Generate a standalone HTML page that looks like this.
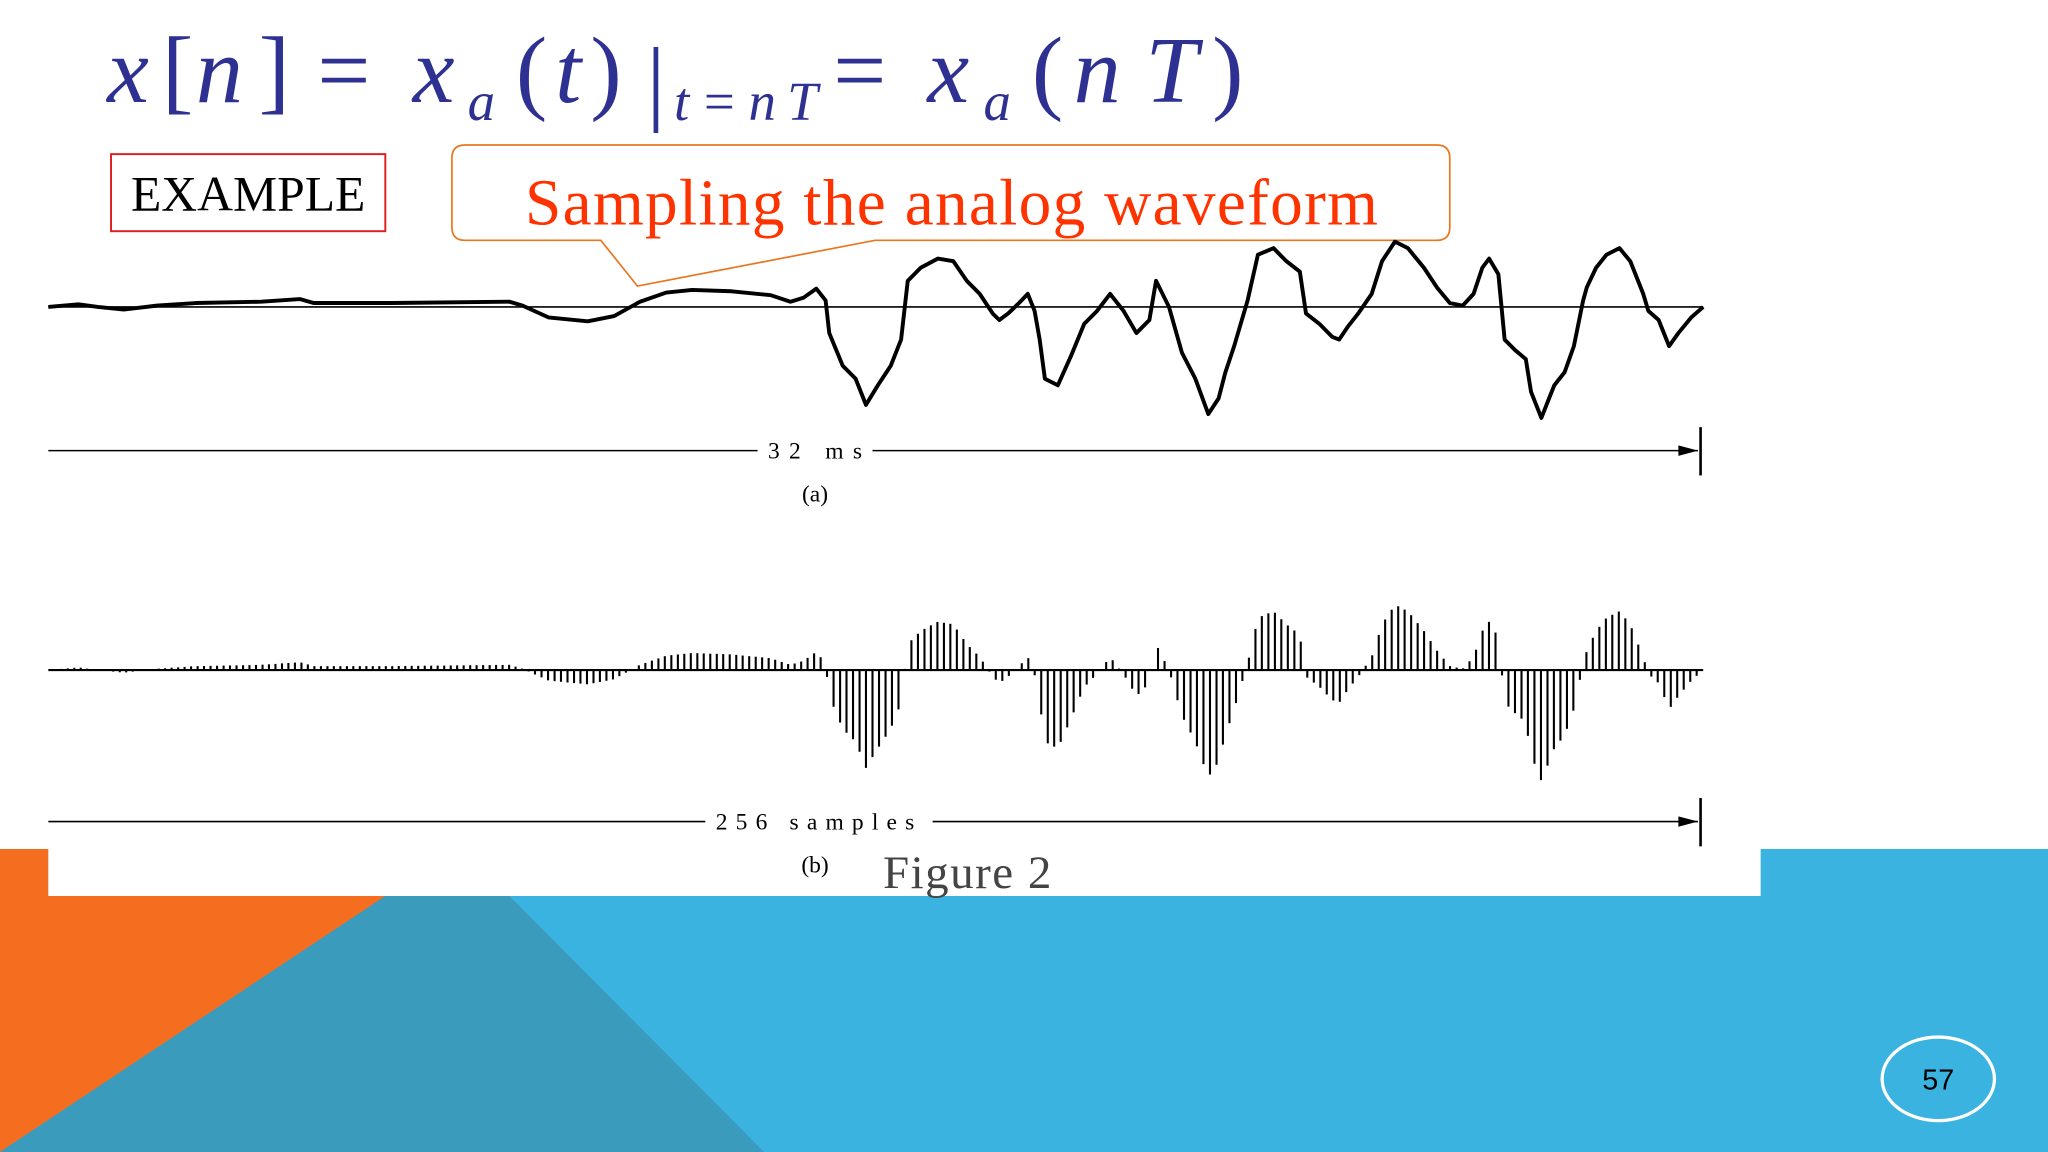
<!DOCTYPE html>
<html><head><meta charset="utf-8"><style>html,body{margin:0;padding:0;background:#fff}svg{display:block}</style></head>
<body>
<svg id="s" width="2048" height="1152" viewBox="0 0 1568 882" xmlns="http://www.w3.org/2000/svg">
<rect x="0" y="0" width="1568" height="882" fill="#fff"/>
<rect x="0" y="650" width="1568" height="232" fill="#3ab3e0"/>
<polygon points="0,650 37,650 37,686 295,686 0,882" fill="#f56d1f"/>
<polygon points="295,686 390,686 585,882 0,882" fill="#3a9bbd"/>
<rect x="37" y="0" width="1311" height="686" fill="#fff"/>
<ellipse cx="1484" cy="826" rx="43" ry="32" fill="none" stroke="#fff" stroke-width="2.5"/>
<text x="1484" y="834" text-anchor="middle" font-family="Liberation Sans, sans-serif" font-size="22" fill="#000">57</text>

<g font-family="Liberation Serif, serif" font-size="72" fill="#2e3192">
<text x="82" y="78" font-style="italic">x</text>
<text x="124" y="78">[</text>
<text x="150" y="78" font-style="italic">n</text>
<text x="198" y="78">]</text>
<text x="243" y="78">=</text>
<text x="316" y="78" font-style="italic">x</text>
<text x="358" y="92" font-style="italic" font-size="42">a</text>
<text x="395" y="78">(</text>
<text x="425" y="78" font-style="italic">t</text>
<text x="452" y="78">)</text>
<text x="495" y="86">|</text>
<text x="516" y="92" font-style="italic" font-size="42" textLength="110">t=nT</text>
<text x="638" y="78">=</text>
<text x="710" y="78" font-style="italic">x</text>
<text x="753" y="92" font-style="italic" font-size="42">a</text>
<text x="790" y="78">(</text>
<text x="822" y="78" font-style="italic" textLength="95">nT</text>
<text x="928" y="78">)</text>
</g>

<rect x="85" y="118" width="210" height="59" fill="none" stroke="#e02020" stroke-width="1.5"/>
<text x="190" y="161" text-anchor="middle" font-family="Liberation Serif, serif" font-size="38" fill="#000">EXAMPLE</text>

<path d="M356,111 H1100 Q1110,111 1110,121 V174 Q1110,184 1100,184 H670 L488,219 L460,184 H356 Q346,184 346,174 V121 Q346,111 356,111 Z" fill="#fff" stroke="#e87722" stroke-width="1.3"/>
<text x="402" y="172" font-family="Liberation Serif, serif" font-size="50" fill="#ff3300" textLength="653">Sampling the analog waveform</text>

<g id="wa"></g>
<g id="wb"></g>

<g font-family="Liberation Serif, serif" fill="#000">
<line x1="37" y1="345" x2="580" y2="345" stroke="#000" stroke-width="1.2"/>
<line x1="668" y1="345" x2="1300" y2="345" stroke="#000" stroke-width="1.2"/>
<polygon points="1300,345 1285,341 1285,349" fill="#000"/>
<line x1="1302" y1="327" x2="1302" y2="364" stroke="#000" stroke-width="2"/>
<text x="588" y="351" font-size="18" textLength="72">32 ms</text>
<text x="624" y="384" text-anchor="middle" font-size="18">(a)</text>
</g>
<g font-family="Liberation Serif, serif" fill="#000">
<line x1="37" y1="629" x2="540" y2="629" stroke="#000" stroke-width="1.2"/>
<line x1="714" y1="629" x2="1300" y2="629" stroke="#000" stroke-width="1.2"/>
<polygon points="1300,629 1285,625 1285,633" fill="#000"/>
<line x1="1302" y1="611" x2="1302" y2="648" stroke="#000" stroke-width="2"/>
<text x="548" y="635" font-size="18" textLength="152">256 samples</text>
<text x="624" y="668" text-anchor="middle" font-size="18">(b)</text>
</g>
<text x="676" y="680" font-family="Liberation Serif, serif" font-size="36" fill="#444" textLength="129">Figure 2</text>
</svg>
<script>
// waveform data: time in ms (0..32), amplitude in arbitrary units
const timesMs = [0,0.58,0.96,1.46,2.10,2.85,4.12,4.87,5.13,6.64,8.92,9.17,9.67,10.43,10.94,11.44,11.95,12.45,13.21,13.97,14.35,14.60,14.85,15.03,15.10,15.36,15.61,15.81,16.04,16.29,16.49,16.62,16.87,17.20,17.50,17.76,18.01,18.26,18.39,18.56,18.77,18.94,19.07,19.17,19.27,19.52,19.78,20.03,20.28,20.53,20.79,21.04,21.29,21.42,21.67,21.92,22.18,22.43,22.63,22.76,22.93,23.19,23.39,23.69,23.94,24.20,24.32,24.58,24.83,24.96,25.13,25.33,25.59,25.79,26.04,26.29,26.60,26.85,27.10,27.35,27.56,27.73,27.86,28.04,28.16,28.36,28.57,28.67,28.87,29.02,29.12,29.32,29.50,29.68,29.75,29.93,30.13,30.38,30.59,30.84,30.94,31.14,31.34,31.52,31.77,32.0];
const amplitude = [0,0.02,0,-0.02,0.01,0.03,0.04,0.06,0.03,0.03,0.04,0.01,-0.08,-0.11,-0.07,0.04,0.11,0.13,0.12,0.09,0.04,0.07,0.14,0.05,-0.20,-0.45,-0.55,-0.75,-0.60,-0.45,-0.25,0.20,0.30,0.37,0.35,0.20,0.10,-0.05,-0.10,-0.05,0.03,0.10,-0.03,-0.25,-0.55,-0.60,-0.37,-0.13,-0.03,0.10,-0.03,-0.20,-0.10,0.20,0,-0.35,-0.55,-0.82,-0.70,-0.50,-0.30,0.05,0.40,0.45,0.35,0.27,-0.05,-0.13,-0.23,-0.25,-0.15,-0.05,0.10,0.35,0.50,0.45,0.30,0.15,0.03,0.01,0.10,0.30,0.37,0.25,-0.25,-0.33,-0.40,-0.65,-0.85,-0.70,-0.60,-0.50,-0.30,0.05,0.15,0.30,0.40,0.45,0.35,0.10,-0.03,-0.10,-0.30,-0.20,-0.08,0];
const totalMs = 32;
const nSamples = 256;
const sampleGain = 1.0;

const NS = 'http://www.w3.org/2000/svg';
function xPos(t){ return 37 + (t / totalMs) * (1304 - 37); }
const yA = v => 235 - v * 100;
const yB = v => 513 - v * 100 * sampleGain;
function valueAt(t){
  for (let i = 1; i < timesMs.length; i++) {
    if (t <= timesMs[i]) {
      const f = (t - timesMs[i-1]) / (timesMs[i] - timesMs[i-1]);
      return amplitude[i-1] + f * (amplitude[i] - amplitude[i-1]);
    }
  }
  return amplitude[amplitude.length - 1];
}
const wa = document.getElementById('wa');
const axA = document.createElementNS(NS, 'line');


axA.setAttribute('x1', 37); axA.setAttribute('x2', 1304);
axA.setAttribute('y1', 235); axA.setAttribute('y2', 235);
axA.setAttribute('stroke', '#000'); axA.setAttribute('stroke-width', '1.2');
wa.appendChild(axA);
const p = document.createElementNS(NS, 'polyline');


const n = Math.min(timesMs.length, amplitude.length);
const pts = [];
for (let i = 0; i < n; i++) pts.push(xPos(timesMs[i]).toFixed(1) + ',' + yA(amplitude[i]).toFixed(1));
p.setAttribute('points', pts.join(' '));
p.setAttribute('fill', 'none'); p.setAttribute('stroke', '#000'); p.setAttribute('stroke-width', '3');
p.setAttribute('stroke-linejoin', 'round');
wa.appendChild(p);

const wb = document.getElementById('wb');
const axB = document.createElementNS(NS, 'line');


axB.setAttribute('x1', 37); axB.setAttribute('x2', 1304);
axB.setAttribute('y1', 513); axB.setAttribute('y2', 513);
axB.setAttribute('stroke', '#000'); axB.setAttribute('stroke-width', '1.6');
wb.appendChild(axB);
for (let k = 0; k < nSamples; k++) {
  const t = k * totalMs / (nSamples - 1);
  const v = valueAt(t);
  const x = xPos(t);
  const s = document.createElementNS(NS, 'line');
  
  
  s.setAttribute('x1', x.toFixed(1)); s.setAttribute('x2', x.toFixed(1));
  s.setAttribute('y1', 513); s.setAttribute('y2', yB(v).toFixed(1));
  s.setAttribute('stroke', '#000'); s.setAttribute('stroke-width', '1.6');
  wb.appendChild(s);
}
</script>
</body></html>
